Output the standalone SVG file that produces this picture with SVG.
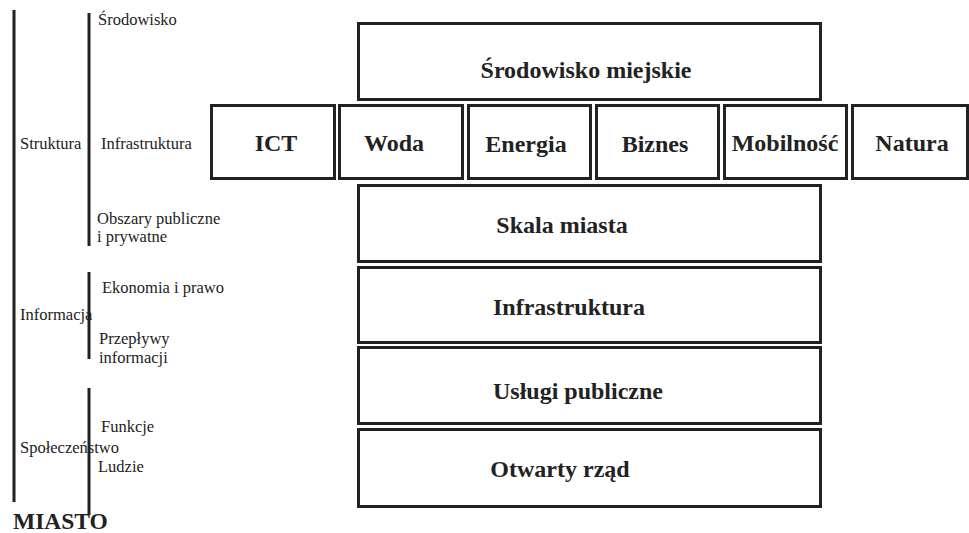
<svg xmlns="http://www.w3.org/2000/svg" width="969" height="533" viewBox="0 0 969 533">
<style>
.box rect{fill:#fff;stroke:#222;stroke-width:3}
.big{font-family:"Liberation Serif", serif;font-weight:bold;font-size:24px;fill:#222;text-anchor:middle}
.sm{font-family:"Liberation Serif", serif;font-size:16.5px;fill:#222}
.bar{stroke:#222;stroke-width:3;fill:none}
</style>
<rect width="969" height="533" fill="#fff"/>
<g id="connectors">
<line class="bar" x1="14" y1="10" x2="14" y2="502"/>
<line class="bar" x1="89" y1="13" x2="89" y2="246"/>
<line class="bar" x1="89" y1="272" x2="89" y2="359"/>
<line class="bar" x1="89" y1="388" x2="89" y2="515"/>
</g>
<g id="labels">
<text class="sm" x="98" y="25">Środowisko</text>
<text class="sm" x="20" y="149">Struktura</text>
<text class="sm" x="101" y="149">Infrastruktura</text>
<text class="sm" x="97" y="224">Obszary publiczne</text>
<text class="sm" x="97" y="242">i prywatne</text>
<text class="sm" x="102" y="293">Ekonomia i prawo</text>
<text class="sm" x="20" y="320">Informacja</text>
<text class="sm" x="99" y="344">Przepływy</text>
<text class="sm" x="99" y="363">informacji</text>
<text class="sm" x="101" y="432">Funkcje</text>
<text class="sm" x="20" y="453">Społeczeństwo</text>
<text class="sm" x="98" y="472">Ludzie</text>
<text x="13" y="529" font-family="Liberation Serif, serif" font-weight="bold" font-size="23.5" fill="#222">MIASTO</text>
</g>
<g id="srodowisko-miejskie" class="box"><rect x="358.5" y="23.5" width="462" height="76"/><text class="big" x="586" y="78">Środowisko miejskie</text></g>
<g id="ict" class="box"><rect x="211.5" y="105.5" width="123" height="73"/><text class="big" x="276" y="151">ICT</text></g>
<g id="woda" class="box"><rect x="339.5" y="105.5" width="123" height="73"/><text class="big" x="394" y="151">Woda</text></g>
<g id="energia" class="box"><rect x="468.5" y="105.5" width="122" height="73"/><text class="big" x="526" y="152">Energia</text></g>
<g id="biznes" class="box"><rect x="596.5" y="105.5" width="122" height="73"/><text class="big" x="655" y="152">Biznes</text></g>
<g id="mobilnosc" class="box"><rect x="724.5" y="105.5" width="122" height="73"/><text class="big" x="785" y="151">Mobilność</text></g>
<g id="natura" class="box"><rect x="852.5" y="105.5" width="115" height="73"/><text class="big" x="912" y="151">Natura</text></g>
<g id="skala-miasta" class="box"><rect x="358.5" y="185.5" width="462" height="76"/><text class="big" x="562" y="233">Skala miasta</text></g>
<g id="infrastruktura" class="box"><rect x="358.5" y="267.5" width="462" height="75"/><text class="big" x="569" y="315">Infrastruktura</text></g>
<g id="uslugi-publiczne" class="box"><rect x="358.5" y="347.5" width="462" height="76"/><text class="big" x="578" y="399">Usługi publiczne</text></g>
<g id="otwarty-rzad" class="box"><rect x="358.5" y="429.5" width="462" height="77"/><text class="big" x="560" y="477">Otwarty rząd</text></g>
</svg>
